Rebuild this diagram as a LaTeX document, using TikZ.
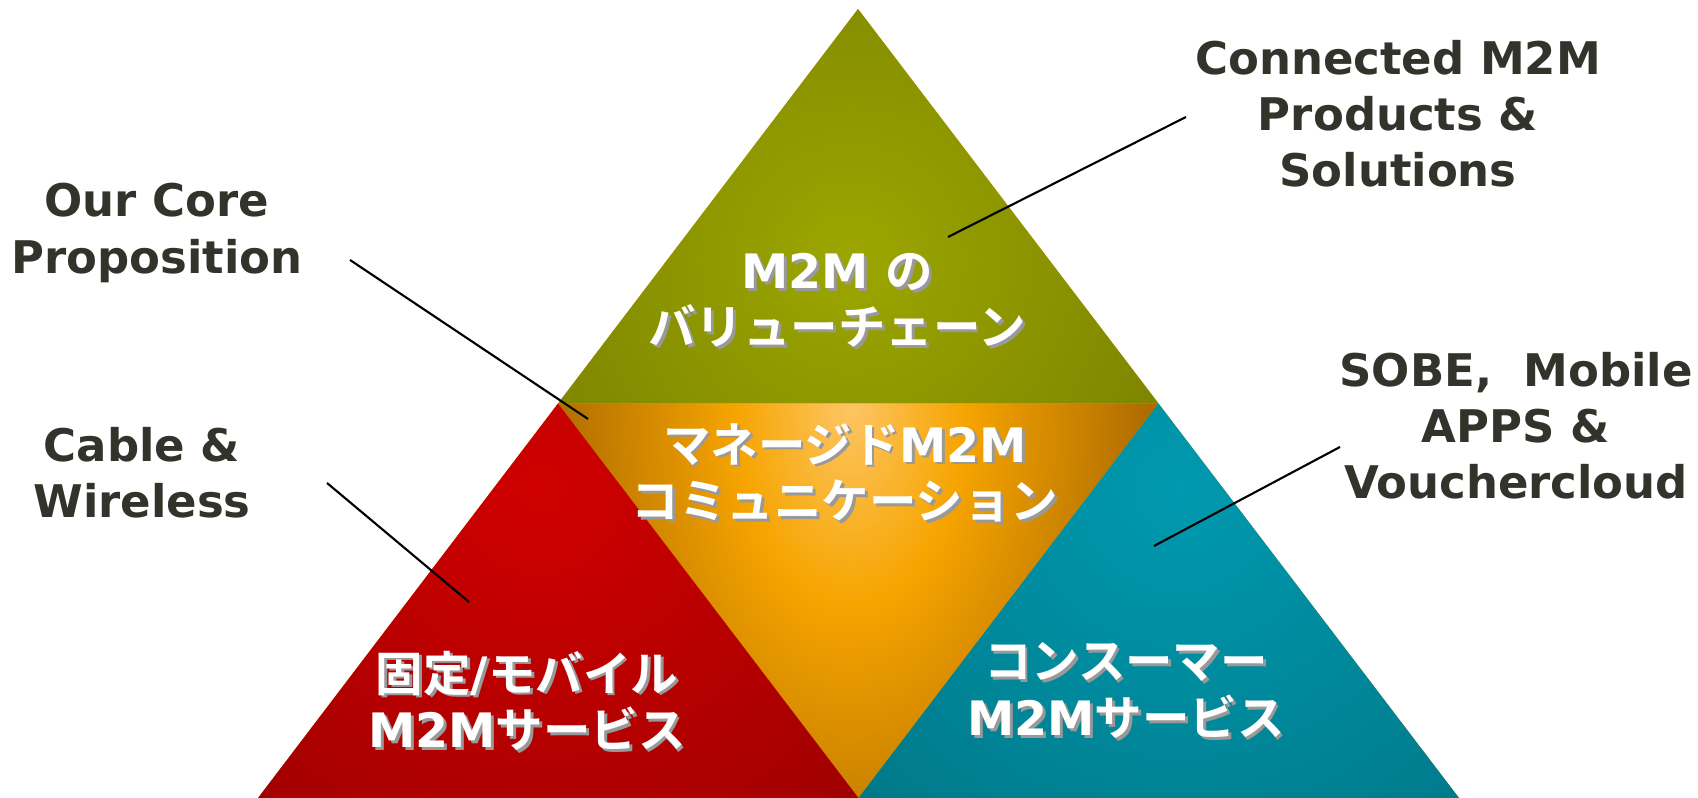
\documentclass[tikz,border=0pt]{standalone}
\usepackage{fontspec}
\setmainfont{DejaVu Sans}
\newfontfamily\jpfont{Noto Sans CJK JP}[BoldFont={* Bold}]
\usetikzlibrary{positioning}
\definecolor{olivel}{RGB}{156,166,0}
\definecolor{olived}{RGB}{118,126,0}
\definecolor{orl}{RGB}{253,198,100}
\definecolor{orm}{RGB}{246,164,0}
\definecolor{ord}{RGB}{166,102,0}
\definecolor{redl}{RGB}{208,0,0}
\definecolor{redd}{RGB}{158,0,0}
\definecolor{teall}{RGB}{0,153,175}
\definecolor{teald}{RGB}{0,120,136}
\definecolor{labgray}{RGB}{51,51,43}
\pgfdeclareradialshading{orglow}{\pgfpoint{0bp}{0bp}}{color(0bp)=(orl); color(9bp)=(orm); color(25bp)=(ord); color(50bp)=(ord)}
\newcommand\sh[1]{\rlap{\kern0.8pt\raisebox{-0.8pt}{\color{black!40}#1}}{#1}}
\tikzset{lab/.style={text=labgray,font=\fontsize{12.8}{16}\selectfont\bfseries,align=center},
  tri/.style={text=white,font=\fontsize{13.5}{16}\selectfont\bfseries,align=center},
  ptr/.style={line width=0.6pt}}

\begin{document}
\begin{tikzpicture}
\useasboundingbox (0,0) rectangle (16.98,7.98);
\coordinate (top) at (8.58,7.89);
\coordinate (bl) at (2.58,0);
\coordinate (br) at (14.59,0);
\coordinate (ml) at (5.58,3.945);
\coordinate (mr) at (11.585,3.945);
\coordinate (mb) at (8.585,0);

\fill[orm] (top)--(bl)--(br)--cycle;
\begin{scope}
\clip (top)--(ml)--(mr)--cycle;
\shade[inner color=olivel,outer color=olived] (8.5,5.4) ellipse (4.2 and 4.2);
\end{scope}
\begin{scope}
\clip (ml)--(mr)--(mb)--cycle;
\shade[shading=orglow] (8.5,3.95) ellipse (3.2 and 5.6);
\end{scope}
\begin{scope}
\clip (ml)--(bl)--(mb)--cycle;
\shade[inner color=redl,outer color=redd] (5.4,3.1) ellipse (4.6 and 4.6);
\end{scope}
\begin{scope}
\clip (mr)--(mb)--(br)--cycle;
\shade[inner color=teall,outer color=teald] (11.8,3.1) ellipse (4.6 and 4.6);
\end{scope}

\node[tri] (chain) at (8.37,4.96) {\sh{M2M {\jpfont の}}\\\sh{\jpfont バリューチェーン}};
\node[tri] (managed) at (8.45,3.24) {\sh{{\jpfont マネージド}M2M}\\\sh{\jpfont コミュニケーション}};
\node[tri] (fixed) at (5.27,0.96) {\sh{{\jpfont 固定}/{\jpfont モバイル}}\\\sh{M2M{\jpfont サービス}}};
\node[tri] (consumer) at (11.26,1.06) {\sh{\jpfont コンスーマー}\\\sh{M2M{\jpfont サービス}}};

\node[lab] (conn) at (13.98,6.84) {Connected M2M\\Products \&\\Solutions};
\node[lab] (core) at (1.57,5.65) {Our Core\\Proposition};
\node[lab] (cable) at (1.42,3.25) {Cable \&\\Wireless};
\node[lab] (sobe) at (15.16,3.72) {SOBE,~~Mobile\\APPS \&\\Vouchercloud};

\coordinate (conn-a) at (11.86,6.81);
\coordinate (conn-b) at (9.48,5.61);
\coordinate (core-a) at (3.50,5.38);
\coordinate (core-b) at (5.88,3.79);
\coordinate (cable-a) at (3.27,3.15);
\coordinate (cable-b) at (4.69,1.96);
\coordinate (sobe-a) at (13.40,3.51);
\coordinate (sobe-b) at (11.54,2.52);
\draw[ptr] (conn-a) -- (conn-b);
\draw[ptr] (core-a) -- (core-b);
\draw[ptr] (cable-a) -- (cable-b);
\draw[ptr] (sobe-a) -- (sobe-b);
\end{tikzpicture}
\end{document}
